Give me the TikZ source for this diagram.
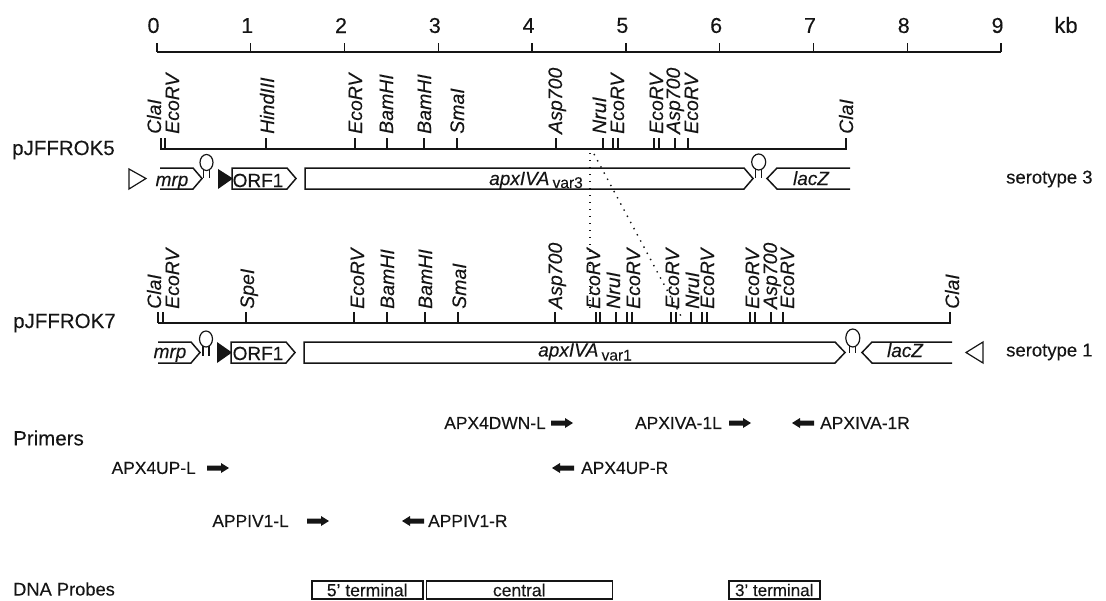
\documentclass[tikz,border=0pt]{standalone}
\usepackage{fontspec}
\setmainfont{Liberation Sans}[UprightFeatures={FakeBold=0.2},ItalicFeatures={FakeBold=0.2}]
\definecolor{ink}{HTML}{151515}
\tikzset{
  base/.style={line width=1.5pt,draw=ink,line join=miter},
  lab/.style={inner sep=0pt,text=ink,font=\fontsize{17.4}{19}\selectfont},
  big/.style={inner sep=0pt,text=ink,font=\fontsize{21.5}{23}\selectfont},
  side/.style={inner sep=0pt,text=ink,anchor=west,font=\fontsize{20.5}{22}\selectfont},
  gene/.style={inner sep=0pt,text=ink,anchor=base,font=\fontsize{19}{21}\selectfont\itshape},
  site/.style={inner sep=0pt,text=ink,rotate=90,anchor=west,text height=14pt,text depth=0pt,font=\fontsize{19.5}{21}\selectfont\itshape},
  tick/.style={line width=1.3pt,draw=ink},
  dots/.style={draw=ink,line width=1.4pt,dash pattern=on 1.4pt off 5.6pt},
  prim/.style={draw=none,fill=ink},
  probe/.style={base,inner sep=0pt,minimum height=18pt,text=ink,font=\fontsize{17.5}{19}\selectfont,anchor=west},
}
\newcommand{\hairpin}[5]{% x, centre y, stem end y, rx, ry
  \draw[line width=1.2pt,draw=ink] (#1,#2) ellipse (#4 and #5);
  \draw[line width=1.2pt,draw=ink] (#1-3,#2+#5-1) -- (#1-3,#3) (#1+3,#2+#5-1) -- (#1+3,#3);
}
\newcommand{\primR}[2]{\fill[prim] (#1,#2-2.5) -- (#1+14,#2-2.5) -- (#1+14,#2-5) -- (#1+22,#2) -- (#1+14,#2+5) -- (#1+14,#2+2.5) -- (#1,#2+2.5) -- cycle;}
\newcommand{\primL}[2]{\fill[prim] (#1,#2-2.5) -- (#1-14,#2-2.5) -- (#1-14,#2-5) -- (#1-22,#2) -- (#1-14,#2+5) -- (#1-14,#2+2.5) -- (#1,#2+2.5) -- cycle;}
\begin{document}
\begin{tikzpicture}[x=1pt,y=-1pt]
\useasboundingbox (0,0) rectangle (1106,600);
% scale
\coordinate (ax0) at (157,52);
\coordinate (ax9) at (1001,52);
\draw[base] (ax0) -- (ax9);
\foreach \k in {0,...,9}{
  \pgfmathsetmacro{\xx}{157+93.78*\k}
  \draw[tick] (\xx,43) -- (\xx,52);
  \node[big] (n\k) at (\xx-3.5,25.5) {\k};
}
\node[big,font=\fontsize{22}{24}\selectfont] (kb) at (1066,25) {kb};
% map 1
\node[side] (p5) at (12,150) {pJFFROK5};
\coordinate (m1a) at (160,149);
\coordinate (m1b) at (847,149);
\draw[base] (m1a) -- (m1b);
\foreach \t in {161,165,266,355,387,424,457,556,603,613,618,654,659,675,688,846}
  \draw[tick] (\t,138) -- (\t,149);
\foreach \x/\s in {154/ClaI,172/EcoRV,267/HindIII,355/EcoRV,386/BamHI,424/BamHI,457/SmaI,555/Asp700,599/NruI,617/EcoRV,656/EcoRV,673/Asp700,691/EcoRV,846/ClaI}
  \node[site] at (\x,134) {\s};
% genes 1
\draw[base] (160,168) -- (193,168) -- (202,178.5) -- (193,189) -- (160,189);
\node[gene] (mrp1) at (172,186) {mrp};
\hairpin{206.5}{162.5}{178}{6.5}{8}
\draw[base,line width=1.2pt] (129,169) -- (146,178.5) -- (129,189) -- cycle;
\fill[ink] (218,169) -- (233,178.5) -- (218,189) -- cycle;
\draw[base] (232,168) -- (287,168) -- (296,178.5) -- (287,189) -- (232,189) -- cycle;
\node[gene,font=\fontsize{19}{21}\selectfont] (orf1) at (258,187) {ORF1};
\draw[base] (744,168) -- (305,168) -- (305,189) -- (744,189) -- (753,178.5) -- cycle;
\node[gene] (apx3) at (536,185) {apxIVA\,{\upshape\fontsize{15.5}{17}\selectfont\raisebox{-3pt}{var3}}};
\hairpin{758.7}{162}{178}{7}{8}
\draw[base] (850,168) -- (777,168) -- (767,178.5) -- (777,189) -- (850,189);
\node[gene] (lz1) at (811,185) {lacZ};
\node[side,font=\fontsize{18.5}{20}\selectfont] (s3) at (1006,179) {serotype 3};
% dotted
\coordinate (d1a) at (590,153);
\coordinate (d1b) at (590,312);
\coordinate (d2a) at (594,154);
\coordinate (d2b) at (682,318);
\draw[dots] (d1a) -- (d1b);
\draw[dots] (d2a) -- (d2b);
% map 2
\node[side] (p7) at (13,323) {pJFFROK7};
\coordinate (m2a) at (158,323);
\coordinate (m2b) at (951,323);
\draw[base] (m2a) -- (m2b);
\foreach \t in {158,163,246,354,387,425,458,555,596,600,616,627,632,671,676,691,702,707,750,755,771,783,950}
  \draw[tick] (\t,312) -- (\t,323);
\foreach \x/\s in {154/ClaI,172/EcoRV,247/SpeI,357/EcoRV,387/BamHI,425/BamHI,459/SmaI,555/Asp700,593/EcoRV,613/NruI,633/EcoRV,672/EcoRV,692/NruI,707/EcoRV,752/EcoRV,770/Asp700,787/EcoRV,952/ClaI}
  \node[site] at (\x,309) {\s};
% genes 2
\draw[base] (158,342) -- (191,342) -- (200,352.5) -- (191,363) -- (158,363);
\node[gene] (mrp2) at (170,358) {mrp};
\hairpin{206}{339}{356}{6.5}{8}
\fill[ink] (217,342) -- (232,352.5) -- (217,363) -- cycle;
\draw[base] (231,342) -- (286,342) -- (295,352.5) -- (286,363) -- (231,363) -- cycle;
\node[gene,font=\fontsize{19}{21}\selectfont] (orf2) at (258,360) {ORF1};
\draw[base] (835,342) -- (304,342) -- (304,363) -- (835,363) -- (845,352.5) -- cycle;
\node[gene] (apx1) at (585,356.5) {apxIVA\,{\upshape\fontsize{15.5}{17}\selectfont\raisebox{-4pt}{var1}}};
\hairpin{852.8}{338}{353}{7}{9}
\draw[base] (952,342) -- (872,342) -- (862,352.5) -- (872,363) -- (952,363);
\node[gene] (lz2) at (905,357) {lacZ};
\draw[base,line width=1.2pt] (983,342) -- (966,352.5) -- (983,363) -- cycle;
\node[side,font=\fontsize{18.5}{20}\selectfont] (s1) at (1006,352) {serotype 1};
% primers
\node[side] (prm) at (13,438) {Primers};
\node[lab,anchor=east] (pa) at (546,423) {APX4DWN-L};
\primR{551}{423}
\node[lab,anchor=east] (pb) at (722,423) {APXIVA-1L};
\primR{729}{423}
\primL{814}{423}
\node[lab,anchor=west] (pc) at (820,423) {APXIVA-1R};
\node[lab,anchor=east] (pd) at (196,468) {APX4UP-L};
\primR{207}{468}
\primL{574}{468}
\node[lab,anchor=west] (pe) at (581,468) {APX4UP-R};
\node[lab,anchor=east] (pf) at (289,521) {APPIV1-L};
\primR{307}{521}
\primL{424}{521}
\node[lab,anchor=west] (pg) at (428,521) {APPIV1-R};
% probes
\node[side,font=\fontsize{18.3}{20}\selectfont] (dna) at (13,589) {DNA Probes};
\node[probe,minimum width=111pt] (q1) at (311,590) {5' terminal};
\node[probe,minimum width=186pt] (q2) at (425.5,590) {central\hspace{13pt}};
\node[probe,minimum width=91pt,font=\fontsize{17}{19}\selectfont] (q3) at (728,590) {3' terminal};
\end{tikzpicture}
\end{document}
